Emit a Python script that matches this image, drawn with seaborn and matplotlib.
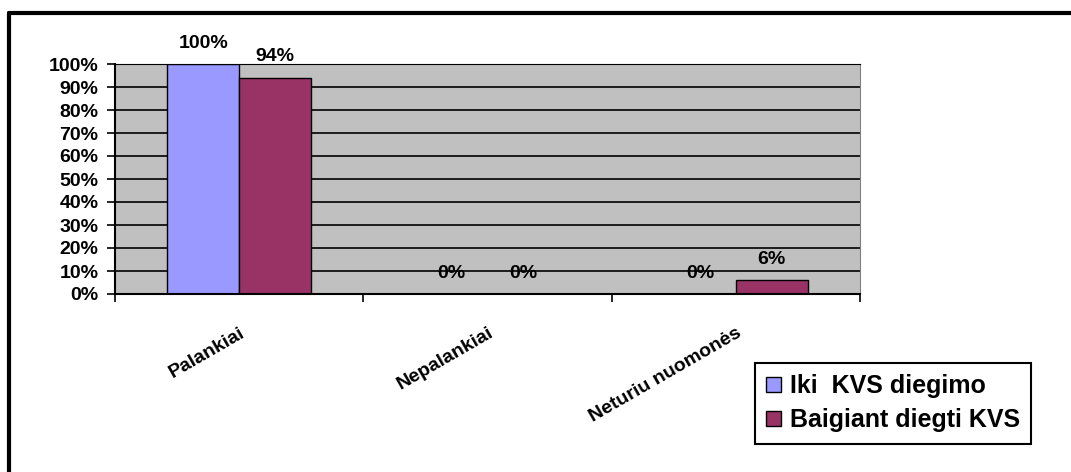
import pandas as pd
import seaborn as sns
import matplotlib.pyplot as plt
from matplotlib.lines import Line2D
from matplotlib.ticker import FuncFormatter, MultipleLocator, FixedLocator

# duomenys
categories = ["Palankiai", "Nepalankiai", "Neturiu nuomonės"]
series_names = ["Iki  KVS diegimo", "Baigiant diegti KVS"]
before_values = [100, 0, 0]
after_values = [94, 0, 6]
bar_colors = ["#9999FF", "#993366"]

df = pd.DataFrame({
    "category": categories * 2,
    "series": [series_names[0]] * 3 + [series_names[1]] * 3,
    "value": before_values + after_values,
})

sns.set_style("white")
plt.rcParams["font.family"] = ["Liberation Sans", "DejaVu Sans"]
plt.rcParams["font.weight"] = "bold"
plt.rcParams["text.color"] = "black"
plt.rcParams["xtick.color"] = "black"
plt.rcParams["ytick.color"] = "black"

W, H = 1071, 472
fig = plt.figure(figsize=(W / 100, H / 100), dpi=100)
ax = fig.add_axes([115 / W, 1 - 294 / H, (860 - 115) / W, (294 - 64) / H])
ax.set_facecolor("#C0C0C0")

sns.barplot(data=df, x="category", y="value", hue="series", palette=bar_colors,
            width=0.58, edgecolor="black", linewidth=1, saturation=1, ax=ax)

ax.set_ylim(0, 100)
ax.set_xlim(-0.5, 2.5)
ax.yaxis.set_major_locator(MultipleLocator(10))
ax.yaxis.set_major_formatter(FuncFormatter(lambda v, p: f"{v:.0f}%"))
ax.grid(axis="y", color="black", linewidth=1.2)
ax.set_axisbelow(True)

# tick marks on category boundaries, labels on centers
ax.xaxis.set_minor_locator(FixedLocator([-0.5, 0.5, 1.5, 2.5]))
ax.tick_params(axis="x", which="minor", length=6, width=1.2, color="black", direction="out", bottom=True)
ax.tick_params(axis="x", which="major", length=0, pad=22, labelsize=14, labelcolor="black")
ax.tick_params(axis="y", length=6, width=1.2, color="black", direction="out", left=True, pad=6,
               labelsize=14, labelcolor="black")
for lbl in ax.get_xticklabels():
    lbl.set_rotation(30)
    lbl.set_ha("right")
    lbl.set_va("top")
    lbl.set_rotation_mode("anchor")
    lbl.set_fontweight("bold")
for lbl in ax.get_yticklabels():
    lbl.set_fontweight("bold")

ax.set_xlabel("")
ax.set_ylabel("")

for side in ["left", "bottom"]:
    ax.spines[side].set_color("black")
    ax.spines[side].set_linewidth(1.5)
ax.spines["right"].set_color("#808080")
ax.spines["top"].set_color("black")

for cont in ax.containers:
    ax.bar_label(cont, labels=[f"{v:g}%" for v in cont.datavalues], padding=9,
                 fontsize=14, fontweight="bold", color="black", clip_on=False)

ax.legend(loc="upper left", bbox_to_anchor=(755 / W, 1 - 363 / H), bbox_transform=fig.transFigure,
          borderaxespad=0, fancybox=False, edgecolor="black", framealpha=1,
          prop={"size": 18, "weight": "bold"}, handlelength=0.6, handleheight=0.6,
          handletextpad=0.35, labelspacing=0.4, borderpad=0.45, title=None)
ax.get_legend().get_frame().set_linewidth(1.5)
for p in ax.get_legend().get_patches():
    p.set_edgecolor("black")

# outer frame (only left and top visible)
fig.add_artist(Line2D([9 / W, 9 / W], [0, 1 - 13 / H], transform=fig.transFigure, color="black", linewidth=3))
fig.add_artist(Line2D([9 / W, 1], [1 - 13 / H, 1 - 13 / H], transform=fig.transFigure, color="black", linewidth=3))

fig.savefig("out.png", dpi=100)
